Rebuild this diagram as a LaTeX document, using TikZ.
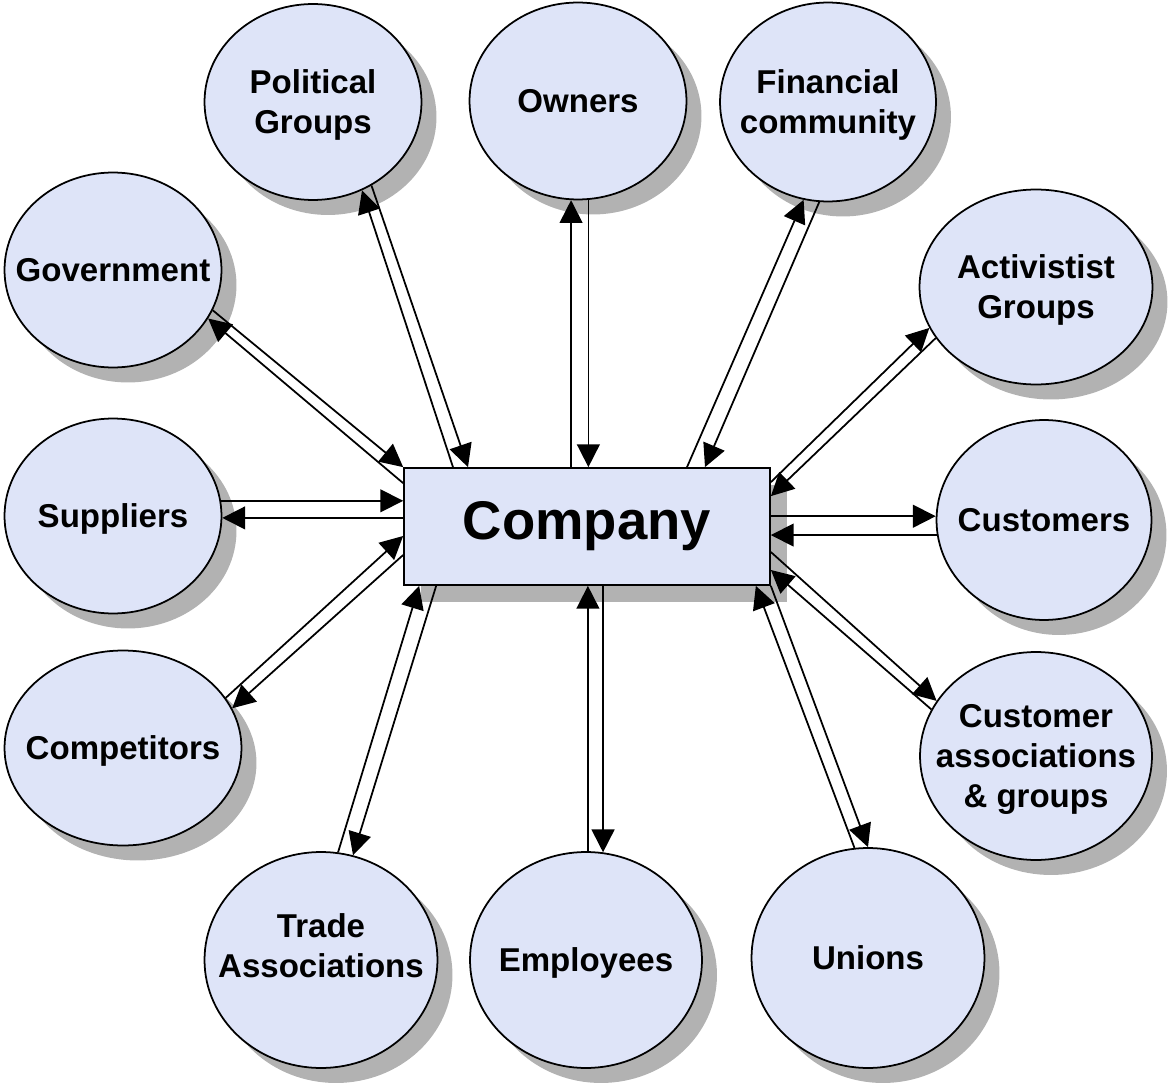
\documentclass[tikz,border=0pt]{standalone}
\usepackage{fontspec}
\setmainfont{Liberation Sans}
\usepackage{tikz}
\usetikzlibrary{shapes,arrows.meta,shadows,calc}
\usepackage{xcolor}
\definecolor{relleno}{RGB}{222,228,248}
\definecolor{sombra}{RGB}{178,178,178}
\tikzset{
  grupo/.style={ellipse,draw=black,line width=1pt,fill=relleno,inner xsep=-2cm,inner ysep=-1.5cm,align=center,
    font=\fontsize{18.8}{22.8}\selectfont\bfseries,
    drop shadow={shadow xshift=0.3cm,shadow yshift=-0.3cm,fill=sombra,opacity=1}},
  empresa/.style={rectangle,draw=black,line width=1pt,fill=relleno,
    minimum width=7.32cm,minimum height=2.34cm,font=\fontsize{31}{36}\selectfont\bfseries,
    drop shadow={shadow xshift=0.34cm,shadow yshift=-0.34cm,fill=sombra,opacity=1}},
  flecha/.style={line width=1pt,>={Triangle[length=13pt,width=13pt]}}
}
\begin{document}
\begin{tikzpicture}[x=0.02cm,y=-0.02cm]
            \useasboundingbox (0,0) rectangle (1171,1088);
            \foreach \n/\x/\y/\w/\h/\d/\t in {
                political/313/102/4.34/3.92/0/{Political\\Groups},
                owners/578/101/4.34/3.94/0/{Owners},
                financial/828/102/4.32/3.98/0/{Financial\\community},
                government/113/270/4.34/3.90/0/{Government},
                activist/1036/287/4.66/3.90/0/{Activistist\\Groups},
                suppliers/113/516/4.34/3.90/0/{Suppliers},
                customers/1044/520/4.30/4.00/0/{Customers},
                competitors/123/748/4.74/3.90/0/{Competitors},
                custassoc/1036/756/4.64/4.16/0/{Customer\\associations\\\& groups},
                trade/321/960/4.66/4.32/16/{Trade\\Associations},
                employees/586/960/4.64/4.32/0/{Employees},
                unions/868/958/4.66/4.40/0/{Unions}}
              \node[grupo,minimum width=\w cm,minimum height=\h cm,text depth=\d pt] (\n) at (\x,\y) {\t}; % grupos
            \node[empresa] (company) at (587,526.5) {Company}; % empresa
            \begin{scope}[flecha]
            \draw[->] ($(company.north)+(-134,0)$) -- (political.-61.7);
            \draw[<-] ($(company.north)+(-119,0)$) -- (political.-55.2);
            \draw[->] (owners.-94.6 |- company.north) -- (owners.-94.6);
            \draw[<-] (owners.-84.9 |- company.north) -- (owners.-84.9);
            \draw[->] ($(company.north)+(100,0)$) -- (financial.-104.9);
            \draw[<-] ($(company.north)+(118,0)$) -- (financial.-95.1);
            \draw[->] ($(company.north west)+(0,16)$) -- (government.-27.8);
            \draw[<-] (company.north west) -- (government.-22);
            \draw[->] ($(company.north east)+(0,15)$) -- (activist.-159.5);
            \draw[<-] ($(company.north east)+(0,29)$) -- (activist.-153.7);
            \draw[->] (suppliers.8.5) -- (suppliers.8.5 -| company.west);
            \draw[<-] (suppliers.-1) -- (suppliers.-1 -| company.west);
            \draw[<-] (customers.178.9) -- (customers.178.9 -| company.east);
            \draw[->] (customers.-172.5) -- (customers.-172.5 -| company.east);
            \draw[<-] ($(company.west)+(0,9.5)$) -- (competitors.26.6);
            \draw[->] ($(company.west)+(0,28.5)$) -- (competitors.20.3);
            \draw[->] ($(company.east)+(0,25.5)$) -- (custassoc.151);
            \draw[<-] ($(company.east)+(0,43.5)$) -- (custassoc.156.5);
            \draw[<-] ($(company.south west)+(16,0)$) -- (trade.81.2);
            \draw[->] ($(company.south west)+(33,0)$) -- (trade.73.3);
            \draw[->] (employees.89.5) -- (employees.89.5 |- company.south);
            \draw[<-] (employees.81.2) -- (employees.81.2 |- company.south);
            \draw[<-] ($(company.south east)+(-15,0)$) -- (unions.97.9);
            \draw[->] (company.south east) -- (unions.90);
            \end{scope}
\end{tikzpicture}
\end{document}
